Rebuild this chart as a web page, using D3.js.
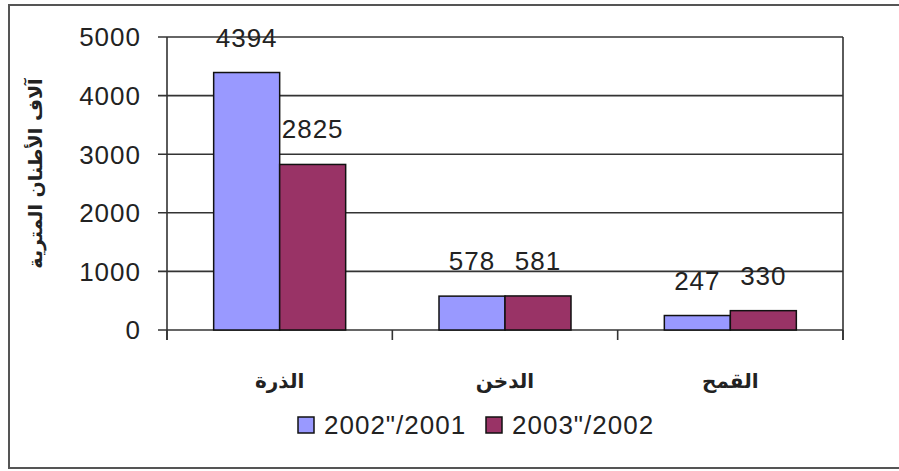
<!DOCTYPE html>
<html><head><meta charset="utf-8">
<script src="https://cdn.jsdelivr.net/npm/d3@7"></script>
<style>body{margin:0;background:#fff}svg{display:block}</style>
</head><body>
<script>
const categories = ["الذرة", "الدخن", "القمح"];
const seriesNames = ['2002"/2001', '2003"/2002'];
const series2001 = [4394, 578, 247];
const series2002 = [2825, 581, 330];
const yTicks = [0, 1000, 2000, 3000, 4000, 5000];
const yTitle = "آلاف الأطنان المترية";
const colors = ["#9999FF", "#993366"];

(function () {
const W = 899, H = 471;
const FONT = "Liberation Sans, Arial, sans-serif";
const svg = d3.select("body").append("svg").attr("width", W).attr("height", H);
svg.append("rect").attr("x", 9).attr("y", 5).attr("width", W + 10).attr("height", 463)
  .attr("fill", "#fff").attr("stroke", "#555").attr("stroke-width", 2);

const pL = 167, pR = 843, pT = 37, pB = 330;
const x = d3.scaleBand().domain(categories).range([pL, pR]);
const y = d3.scaleLinear().domain([0, 5000]).range([pB, pT]);
const barW = 66;
const xs = d3.scaleBand().domain([0, 1]).range([0, barW * 2]);

svg.append("g").selectAll("line").data(yTicks).join("line")
  .attr("x1", pL - 9).attr("x2", pR).attr("y1", d => y(d)).attr("y2", d => y(d))
  .attr("stroke", "#333").attr("stroke-width", 1.6);
svg.append("line").attr("x1", pL).attr("x2", pL).attr("y1", pT).attr("y2", pB + 10).attr("stroke", "#333").attr("stroke-width", 1.6);
svg.append("line").attr("x1", pR).attr("x2", pR).attr("y1", pT).attr("y2", pB + 10).attr("stroke", "#333").attr("stroke-width", 1.6);
const bounds = categories.map(c => x(c)).concat([pR]);
svg.append("g").selectAll("line").data(bounds).join("line")
  .attr("x1", d => d).attr("x2", d => d).attr("y1", pB).attr("y2", pB + 10)
  .attr("stroke", "#333").attr("stroke-width", 1.6);

svg.append("g").selectAll("text").data(yTicks).join("text")
  .attr("x", 141).attr("y", d => y(d)).attr("dy", "0.36em").attr("text-anchor", "end")
  .attr("font-family", FONT).attr("font-size", 26).attr("letter-spacing", 1).attr("fill", "#222")
  .text(d => d);

const data = [series2001, series2002];
categories.forEach((c, i) => {
  const g = svg.append("g").attr("transform", `translate(${x(c) + (x.bandwidth() - barW * 2) / 2},0)`);
  data.forEach((s, k) => {
    g.append("rect").attr("x", xs(k)).attr("y", y(s[i])).attr("width", xs.bandwidth())
      .attr("height", pB - y(s[i])).attr("fill", colors[k]).attr("stroke", "#111").attr("stroke-width", 1.5);
    g.append("text").attr("x", xs(k) + xs.bandwidth() / 2).attr("y", y(s[i]) - 26)
      .attr("text-anchor", "middle").attr("font-family", FONT)
      .attr("font-size", 26).attr("letter-spacing", 1).attr("fill", "#222").text(s[i]);
  });
});

svg.append("g").selectAll("text").data(categories).join("text")
  .attr("x", d => x(d) + x.bandwidth() / 2).attr("y", 388).attr("text-anchor", "middle")
  .attr("font-family", "DejaVu Sans, sans-serif").attr("font-size", 20).attr("font-weight", "bold")
  .attr("fill", "#222").attr("direction", "rtl").text(d => d);

svg.append("text").attr("transform", `translate(42,${(pT + pB) / 2 - 10}) rotate(-90)`)
  .attr("text-anchor", "middle").attr("font-family", "DejaVu Sans, sans-serif").attr("font-size", 19)
  .attr("font-weight", "bold").attr("fill", "#222").attr("direction", "rtl").text(yTitle);

const legX = [298, 486];
seriesNames.forEach((n, k) => {
  svg.append("rect").attr("x", legX[k]).attr("y", 417).attr("width", 16).attr("height", 16)
    .attr("fill", colors[k]).attr("stroke", "#111").attr("stroke-width", 1.5);
  svg.append("text").attr("x", legX[k] + 26).attr("y", 434).attr("font-family", FONT)
    .attr("font-size", 26).attr("letter-spacing", 1).attr("fill", "#222").text(n);
});
})();
</script>
</body></html>
